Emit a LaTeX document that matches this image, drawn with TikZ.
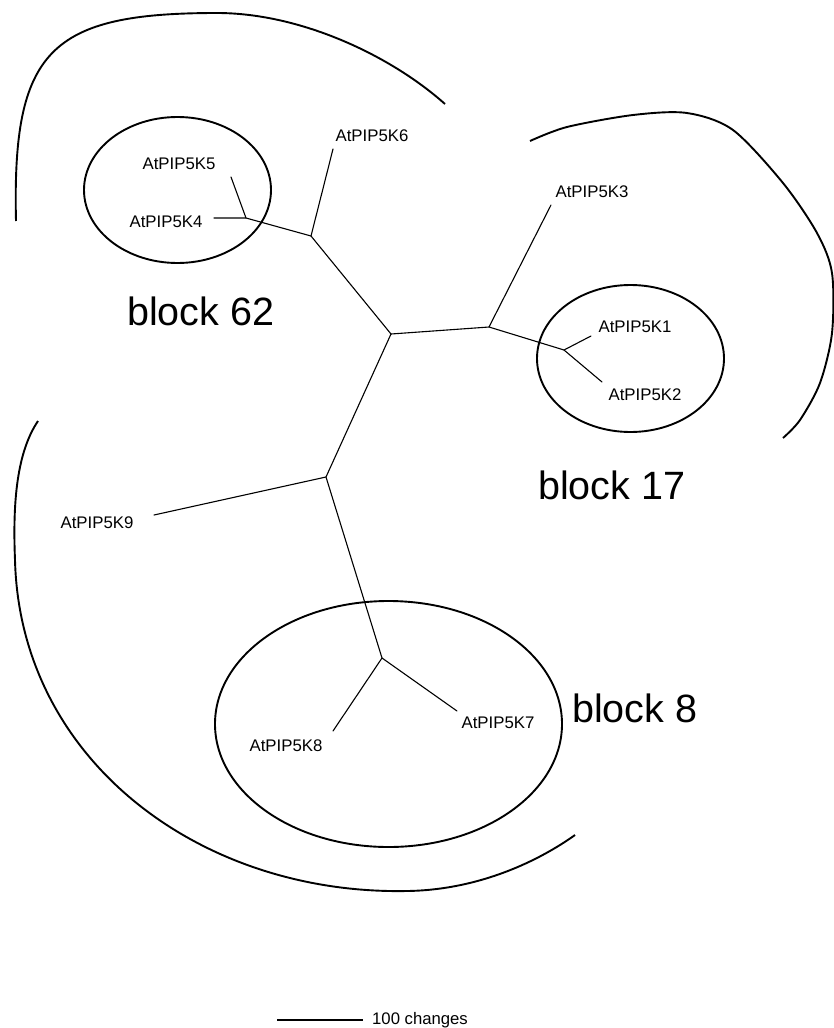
\documentclass[tikz,border=0pt]{standalone}
\usepackage{fontspec}
\setmainfont{Liberation Sans}
\usetikzlibrary{shapes.geometric}
\begin{document}
\begin{tikzpicture}[x=1pt,y=-1pt,
  branch/.style={line width=1.1pt,line cap=round},
  group/.style={line width=1.9pt},
  leaf/.style={inner sep=0pt,font=\fontsize{16.8}{17}\selectfont},
  blocklabel/.style={inner sep=0pt,anchor=base west,font=\fontsize{39.5}{41}\selectfont}]
\useasboundingbox (0,0) rectangle (833,1028);

% internal nodes of the tree
\coordinate (c1)  at (391,334);
\coordinate (n62) at (311,236);
\coordinate (n45) at (246,218);
\coordinate (n17) at (489,327);
\coordinate (n12) at (564,350);
\coordinate (nb)  at (326,477);
\coordinate (n78) at (382,658);
% branch tips
\coordinate (t5) at (231,177);
\coordinate (t4) at (214,218);
\coordinate (t6) at (333,149);
\coordinate (t3) at (551,205);
\coordinate (t1) at (591,336);
\coordinate (t2) at (602,382);
\coordinate (t9) at (154,515);
\coordinate (t7) at (457,711);
\coordinate (t8) at (333,731);

% leaf labels
\node[leaf] (k5) at (179,164) {AtPIP5K5};
\node[leaf] (k4) at (166,222) {AtPIP5K4};
\node[leaf] (k6) at (372,136) {AtPIP5K6};
\node[leaf] (k3) at (592,192) {AtPIP5K3};
\node[leaf] (k1) at (635,327) {AtPIP5K1};
\node[leaf] (k2) at (645,395) {AtPIP5K2};
\node[leaf] (k9) at (97,523)  {AtPIP5K9};
\node[leaf] (k7) at (498,723) {AtPIP5K7};
\node[leaf] (k8) at (286,746) {AtPIP5K8};

% tree branches
\draw[branch] (c1) -- (n62) -- (n45) -- (t4);
\draw[branch] (n45) -- (t5);
\draw[branch] (n62) -- (t6);
\draw[branch] (c1) -- (n17) -- (n12) -- (t1);
\draw[branch] (n12) -- (t2);
\draw[branch] (n17) -- (t3);
\draw[branch] (c1) -- (nb) -- (n78) -- (t7);
\draw[branch] (n78) -- (t8);
\draw[branch] (nb) -- (t9);

% inner block outlines
\node[group,draw,ellipse,inner sep=0pt,minimum width=187pt,minimum height=146pt] (e62) at (177.5,190) {};
\node[group,draw,ellipse,inner sep=0pt,minimum width=187pt,minimum height=147pt] (e17) at (630.5,358.5) {};
\node[group,draw,ellipse,inner sep=0pt,minimum width=347pt,minimum height=246pt] (e8) at (388.5,724) {};

% outer arcs
\draw[group] (16,221) .. controls (12,50) and (50,13) .. (217,13)
                      .. controls (300,13) and (390,55) .. (445,104);
\draw[group] plot[smooth] coordinates {(530,141) (567,127) (633,115) (687,113) (733,130) (783,183) (817,233) (832,273) (832,333) (820,383) (800,420) (783,438)};
\draw[group] (38,421) .. controls (15,455) and (13,510) .. (15,560)
                      .. controls (20,760) and (200,895) .. (407,891)
                      .. controls (480,890) and (540,860) .. (575,835);

% block names
\node[blocklabel] (b62) at (127,325) {block 62};
\node[blocklabel] (b17) at (538,499) {block 17};
\node[blocklabel] (b8)  at (572,722) {block 8};

% scale bar
\coordinate (s0) at (277,1020);
\coordinate (s1) at (363,1020);
\draw[line width=1.1pt] (s0) -- (s1);
\node[inner sep=0pt,anchor=base west,font=\fontsize{16.7}{17}\selectfont] (sc) at (372,1024) {100 changes};
\end{tikzpicture}
\end{document}
